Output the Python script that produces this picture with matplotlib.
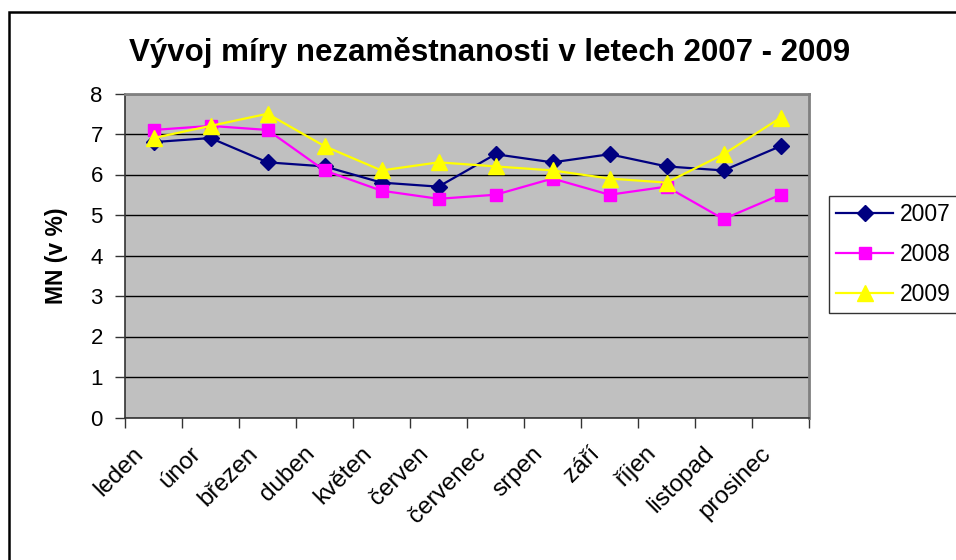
import matplotlib
matplotlib.use("Agg")
import matplotlib.pyplot as plt
from matplotlib.patches import Rectangle
import matplotlib.transforms as mtransforms
import numpy as np

plt.rcParams['font.family'] = ['Liberation Sans', 'DejaVu Sans']

months = ["leden", "únor", "březen", "duben", "květen", "červen",
          "červenec", "srpen", "září", "říjen", "listopad", "prosinec"]
mn_2007 = [6.8, 6.9, 6.3, 6.2, 5.8, 5.7, 6.5, 6.3, 6.5, 6.2, 6.1, 6.7]
mn_2008 = [7.1, 7.2, 7.1, 6.1, 5.6, 5.4, 5.5, 5.9, 5.5, 5.7, 4.9, 5.5]
mn_2009 = [6.9, 7.2, 7.5, 6.7, 6.1, 6.3, 6.2, 6.1, 5.9, 5.8, 6.5, 7.4]
years = ["2007", "2008", "2009"]
title = "Vývoj míry nezaměstnanosti v letech 2007 - 2009"
ylabel = "MN (v %)"

fig = plt.figure(figsize=(9.56, 5.6), dpi=100)
fig.patch.set_facecolor("white")

# outer chart frame
fig.add_artist(Rectangle((9/956, -0.05), 1.1, 1 - 12/560 + 0.05,
                         transform=fig.transFigure, fill=False,
                         edgecolor="black", linewidth=1.8))

ax = fig.add_axes([125/956, 1 - 417.5/560, (809 - 125)/956, (417.5 - 93.5)/560])
ax.set_facecolor("#C0C0C0")

x = np.arange(len(months)) + 0.5
ax.plot(x, mn_2007, color="#000080", marker="D", markersize=8, linewidth=1.6,
        label=years[0], zorder=3)
ax.plot(x, mn_2008, color="#FF00FF", marker="s", markersize=8.5, linewidth=1.6,
        label=years[1], zorder=3)
ax.plot(x, mn_2009, color="#FFFF00", marker="^", markersize=11, linewidth=1.6,
        label=years[2], zorder=3)

ax.set_xlim(0, len(months))
ax.set_ylim(0, 8)
ax.set_yticks(range(0, 9))
ax.yaxis.grid(True, color="black", linewidth=1.0)
ax.set_axisbelow(True)

ax.set_xticks(range(0, len(months) + 1))
ax.set_xticklabels([])
ax.set_xticks(x, minor=True)
ax.set_xticklabels(months, minor=True, rotation=45, ha="right", va="top",
                   rotation_mode="anchor", fontsize=17.5)
ax.tick_params(axis="x", which="minor", length=0, pad=18)
ax.tick_params(axis="x", which="major", length=7, width=1, direction="out", color="#333333")
ax.tick_params(axis="y", length=7, width=1, direction="out", labelsize=16, pad=9, color="#333333")

offset = mtransforms.ScaledTranslation(-21/100, 0, fig.dpi_scale_trans)
for lbl in ax.get_xticklabels(minor=True):
    lbl.set_transform(lbl.get_transform() + offset)

for s in ["left", "bottom"]:
    ax.spines[s].set_color("#333333")
    ax.spines[s].set_linewidth(1.2)
for s in ["top", "right"]:
    ax.spines[s].set_color("#808080")
    ax.spines[s].set_linewidth(2)

ax.set_ylabel(ylabel, fontsize=16.5, fontweight="bold", labelpad=16)

fig.text(490/956, 1 - 52/560, title, ha="center", va="center",
         fontsize=22.5, fontweight="bold")

leg = fig.legend(loc="upper left", bbox_to_anchor=(829/956, 1 - 196/560),
                 fontsize=16.5, frameon=True, fancybox=False, handlelength=2.5,
                 borderpad=0.3, labelspacing=0.75, handletextpad=0.3,
                 borderaxespad=0)
leg.get_frame().set_edgecolor("black")
leg.get_frame().set_linewidth(1.0)

fig.savefig("out.png", dpi=100)
